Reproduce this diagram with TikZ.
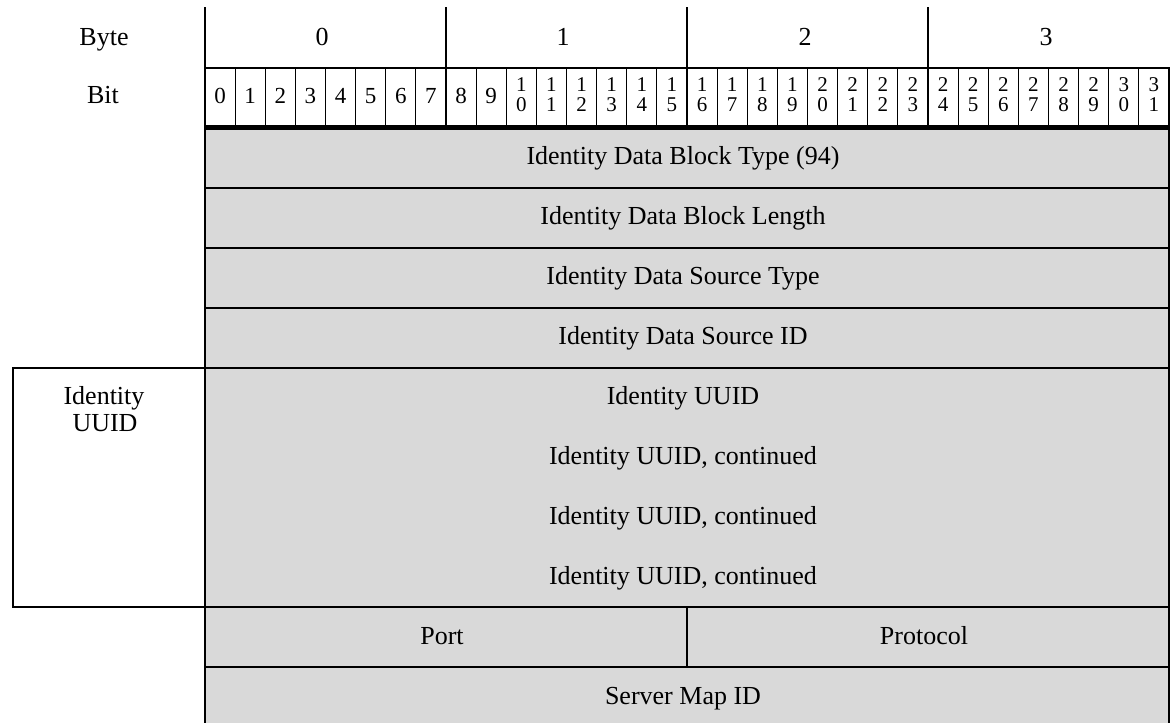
\documentclass[tikz,border=0pt]{standalone}
\usepackage{fontspec}
\setmainfont{Liberation Serif}
\definecolor{cellgray}{RGB}{217,217,217}
\begin{document}
\begin{tikzpicture}[x=0.5pt,y=-0.5pt,
  rule/.style={line width=1pt,line cap=rect},
  thinrule/.style={line width=0.5pt},
  thickrule/.style={line width=2.5pt},
  rowtext/.style={font=\fontsize{13}{15}\selectfont,anchor=base,inner sep=0pt},
  headtext/.style={font=\fontsize{13}{15}\selectfont,anchor=base,inner sep=0pt},
  bitone/.style={font=\fontsize{11.5}{13}\selectfont,anchor=base,inner sep=0pt},
  bittwo/.style={font=\fontsize{10.5}{12}\selectfont,anchor=base,inner sep=0pt}]
\useasboundingbox (0,0) rectangle (1173,723);
\clip (0,0) rectangle (1173,723);
% gray body
\fill[cellgray] (205,127) rectangle (1169,730);
% body borders
\foreach \yy in {188,248,308,368,607,667}
  \draw[rule] (205,\yy) -- (1169,\yy);
\draw[rule] (205,127) -- (205,730);
\draw[rule] (1169,127) -- (1169,730);
\draw[rule] (687,607) -- (687,667);
% UUID side box
\draw[rule] (205,368) -- (12.7,368) -- (12.7,607) -- (205,607);
% header lines
\foreach \xx in {205,446,687,928}
  \draw[rule] (\xx,8) -- (\xx,127);
\draw[rule] (1169,68) -- (1169,127);
\draw[rule] (205,68) -- (1169,68);
\foreach \i in {1,...,31}{
  \pgfmathsetmacro\bx{205+30.125*\i}
  \draw[thinrule] (\bx,68) -- (\bx,127);
}
\draw[thickrule] (205,127) -- (1169,127);
% header labels
\node[headtext] (lbyte) at (104,45) {Byte};
\node[headtext] (lbit) at (103,103) {Bit};
\node[headtext] (byte0) at (322,45) {0};
\node[headtext] (byte1) at (563,45) {1};
\node[headtext] (byte2) at (805,45) {2};
\node[headtext] (byte3) at (1046,45) {3};
% bit numbers
\foreach \i in {0,...,31}{
  \pgfmathsetmacro\cx{205+30.125*(\i+0.5)}
  \ifnum\i<10
    \node[bitone] (bit\i) at (\cx,103) {\i};
  \else
    \pgfmathtruncatemacro\tens{\i/10}
    \pgfmathtruncatemacro\units{\i-10*\tens}
    \node[bittwo] (bit\i t) at (\cx,91.5) {\tens};
    \node[bittwo] (bit\i u) at (\cx,111) {\units};
  \fi
}
% row texts
\node[rowtext] (r1) at (683,164.5) {Identity Data Block Type (94)};
\node[rowtext] (r2) at (683,224.5) {Identity Data Block Length};
\node[rowtext] (r3) at (683,284.5) {Identity Data Source Type};
\node[rowtext] (r4) at (683,344.5) {Identity Data Source ID};
\node[rowtext] (u1) at (683,404.5) {Identity UUID};
\node[rowtext] (u2) at (683,464.5) {Identity UUID, continued};
\node[rowtext] (u3) at (683,524.5) {Identity UUID, continued};
\node[rowtext] (u4) at (683,584.5) {Identity UUID, continued};
\node[rowtext] (port) at (442,644) {Port};
\node[rowtext] (proto) at (924,644) {Protocol};
\node[rowtext] (smap) at (683,704) {Server Map ID};
% side label
\node[rowtext] (side1) at (104,404) {Identity};
\node[rowtext] (side2) at (105,431) {UUID};
\end{tikzpicture}
\end{document}
